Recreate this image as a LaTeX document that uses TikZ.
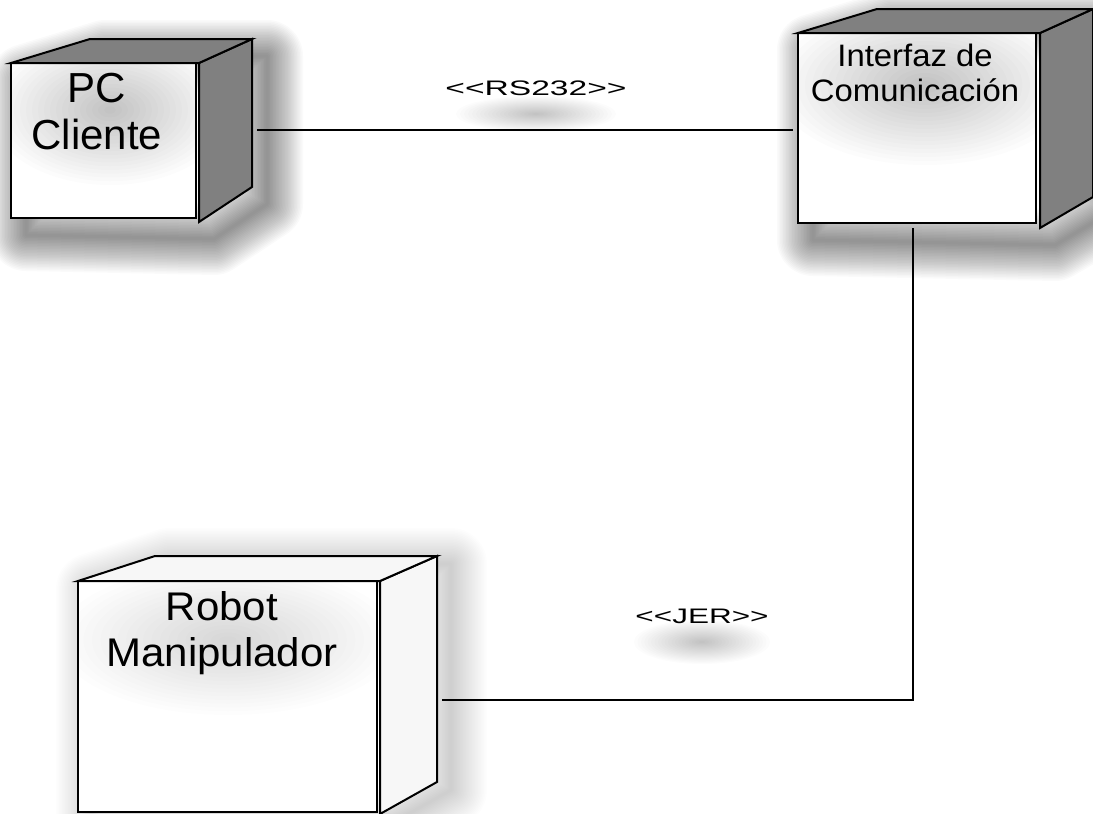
\documentclass[tikz,border=0pt]{standalone}
\usepackage{fontspec}
\usepackage{graphicx}
\setmainfont{Liberation Sans}
\begin{document}
\begin{tikzpicture}[x=1pt,y=-1pt,
  boxline/.style={line width=2pt, line join=miter, draw=black},
  darkface/.style={boxline, fill=black!50},
  lightface/.style={boxline, fill=black!3},
  frontface/.style={boxline, fill=white, rectangle, inner sep=0pt, outer sep=0pt, anchor=north west},
  conn/.style={line width=2pt, draw=black, shorten <=5pt, shorten >=5pt},
  stereo/.style={font=\fontsize{21}{25}\selectfont, inner sep=0pt},
  boxtext/.style={align=center, inner sep=0pt}
]
% soft shadow of a closed path: #1 = opacity per step, #2 = path
\newcommand\softshade[2]{%
  \foreach \k in {1,...,24}{\draw[black, opacity=#1, line width=\k*3pt, line join=round] #2;}}
% soft elliptic halo: centre, radii, opacity per step
\newcommand\softhalo[5]{%
  \foreach \k in {1,...,20}{\fill[black, opacity=#5] (#1,#2) ellipse ({#3*\k/20} and {#4*\k/20});}}

\useasboundingbox (0,0) rectangle (1093,814);
\clip (0,0) rectangle (1093,814);
\fill[white] (0,0) rectangle (1093,814);

% ---------- shadows ----------
\softshade{0.019}{[shift={(15,17)}] (11,218) -- (11,63) -- (90,39) -- (252,39) -- (252,187) -- (199,222) -- cycle}
\softshade{0.019}{[shift={(15,17)}] (798,223) -- (798,33) -- (877,9) -- (1093,9) -- (1093,197) -- (1040,228) -- cycle}
\softshade{0.008}{[shift={(14,8)}] (78,812) -- (78,581) -- (155,556) -- (437,556) -- (437,782) -- (380,814) -- cycle}

% label halos
\softhalo{536}{114}{80}{18}{0.012}
\softhalo{702}{642}{68}{22}{0.012}

% ---------- PC Cliente ----------
\node[frontface, minimum width=185pt, minimum height=155pt] (pc) at (11,63) {};
\begin{scope}
  \clip (12,64) rectangle (195,217);
  \softhalo{110}{110}{120}{75}{0.013}
\end{scope}
\filldraw[darkface] (199,63) -- (252,39) -- (252,187) -- (199,222) -- cycle;
\filldraw[darkface] (11,63) -- (90,39) -- (252,39) -- (199,63) -- cycle;
\node[boxtext, font=\fontsize{42}{47}\selectfont] (pctext) at (97,111.5) {PC\\Cliente};

% ---------- Interfaz de Comunicacion ----------
\node[frontface, minimum width=238pt, minimum height=190pt] (if) at (798,33) {};
\begin{scope}
  \clip (799,34) rectangle (1035,222);
  \softhalo{925}{85}{150}{80}{0.013}
\end{scope}
\filldraw[darkface] (1040,33) -- (1093,9) -- (1093,197) -- (1040,228) -- cycle;
\filldraw[darkface] (798,33) -- (877,9) -- (1093,9) -- (1040,33) -- cycle;
\node[boxtext, font=\fontsize{31}{35}\selectfont] (iftext) at (915,73) {\scalebox{1.06}[1]{Interfaz de}\\\scalebox{1.06}[1]{Comunicación}};

% ---------- Robot Manipulador ----------
\node[frontface, minimum width=299pt, minimum height=231pt] (rob) at (78,581) {};
\begin{scope}
  \clip (79,582) rectangle (376,811);
  \softhalo{228}{640}{170}{75}{0.009}
\end{scope}
\filldraw[lightface] (380,581) -- (437,556) -- (437,782) -- (380,814) -- cycle;
\filldraw[lightface] (78,581) -- (155,556) -- (437,556) -- (380,581) -- cycle;
\node[boxtext, font=\fontsize{40}{46}\selectfont] (robtext) at (222,633.5) {\scalebox{1.05}[1]{Robot}\\\scalebox{1.05}[1]{Manipulador}};

% ---------- connectors ----------
\coordinate (pcport) at (252,130);
\coordinate (ifport) at (798,130);
\coordinate (ifbottom) at (913,223);
\coordinate (robport) at (437,700);
\draw[conn] (pcport) -- (ifport);
\draw[conn] (ifbottom) |- (robport);

% ---------- stereotypes ----------
\node[stereo] (rs) at (536,88) {\scalebox{1.6}[1]{<\kern0pt<RS232>\kern0pt>}};
\node[stereo] (jer) at (702,616) {\scalebox{1.5}[1]{<\kern0pt<JER>\kern0pt>}};
\end{tikzpicture}
\end{document}
